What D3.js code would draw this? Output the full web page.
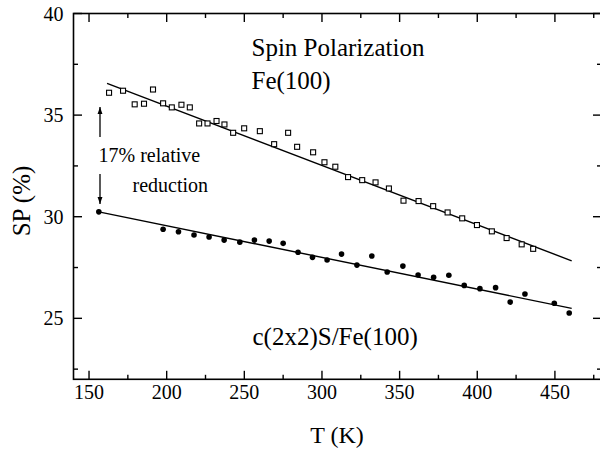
<!DOCTYPE html>
<html>
<head>
<meta charset="utf-8">
<script src="https://cdn.jsdelivr.net/npm/d3@7"></script>
<style>
  html, body { margin: 0; padding: 0; background: #fff; }
  svg { display: block; }
</style>
</head>
<body>
<svg id="chart" width="600" height="449" font-family="'Liberation Serif', 'Times New Roman', serif"></svg>
<script>
// Clean Fe(100) surface: temperature (K) and spin polarization (%)
const feT  = [162.9, 171.9, 179.4, 185.4, 191.2, 197.7, 203.3, 209.5, 214.9, 220.9,
              226.3, 232.1, 237.2, 242.8, 249.9, 260.0, 269.2, 278.2, 284.0, 294.3,
              301.6, 308.6, 316.8, 325.9, 334.5, 343.1, 352.5, 362.2, 371.6, 380.9,
              390.3, 399.8, 409.4, 418.9, 428.6, 436.0];
const feSP = [36.10, 36.20, 35.53, 35.56, 36.26, 35.58, 35.38, 35.51, 35.38, 34.59,
              34.59, 34.71, 34.54, 34.13, 34.35, 34.21, 33.57, 34.13, 33.44, 33.17,
              32.68, 32.46, 31.95, 31.80, 31.69, 31.39, 30.79, 30.77, 30.52, 30.21,
              29.92, 29.59, 29.28, 28.95, 28.64, 28.42];

// Sulfur-covered c(2x2)S/Fe(100) surface
const sT  = [156.3, 197.7, 207.6, 217.6, 227.3, 237.0, 247.1, 256.5, 266.0, 275.0,
             284.6, 293.9, 303.3, 312.6, 322.5, 332.1, 342.0, 352.1, 361.9, 371.9,
             381.7, 391.6, 401.7, 411.8, 421.2, 430.7, 449.6, 459.2];
const sSP = [30.24, 29.38, 29.26, 29.10, 29.00, 28.85, 28.75, 28.85, 28.80, 28.69,
             28.25, 28.00, 27.87, 28.16, 27.62, 28.07, 27.28, 27.57, 27.13, 27.02,
             27.12, 26.62, 26.46, 26.51, 25.80, 26.20, 25.74, 25.26];

// Linear fits, given by their end points (T, SP)
const feFitT  = [161.6, 460.8];
const feFitSP = [36.56, 27.83];
const sFitT   = [156.3, 460.8];
const sFitSP  = [30.24, 25.49];

// Axis ticks
const xMajor = [150, 200, 250, 300, 350, 400, 450];
const xMinor = [175, 225, 275, 325, 375, 425, 475];
const yMajor = [25, 30, 35, 40];
const yMinor = [22.5, 27.5, 32.5, 37.5];

const svg = d3.select("#chart");
const L = 73.5, R = 601.5, T = 13.5, B = 379.3;

const x = d3.scaleLinear().domain([140, 480]).range([L, R]);
const y = d3.scaleLinear().domain([22, 40]).range([B, T]);

const majLen = 8.5, minLen = 4.5;

// Inward ticks on all four sides
function ticks(g, vals, len, orient) {
  vals.forEach(v => {
    if (orient === "bottom") g.append("line").attr("x1", x(v)).attr("x2", x(v)).attr("y1", B).attr("y2", B - len);
    if (orient === "top")    g.append("line").attr("x1", x(v)).attr("x2", x(v)).attr("y1", T).attr("y2", T + len);
    if (orient === "left")   g.append("line").attr("y1", y(v)).attr("y2", y(v)).attr("x1", L).attr("x2", L + len);
    if (orient === "right")  g.append("line").attr("y1", y(v)).attr("y2", y(v)).attr("x1", R).attr("x2", R - len);
  });
}
const tg = svg.append("g").attr("stroke", "#000").attr("stroke-width", 1.4);
["bottom", "top"].forEach(o => { ticks(tg, xMajor, majLen, o); ticks(tg, xMinor, minLen, o); });
["left", "right"].forEach(o => { ticks(tg, yMajor, majLen, o); ticks(tg, yMinor, minLen, o); });

// Frame
svg.append("rect").attr("x", L).attr("y", T).attr("width", R - L).attr("height", B - T)
  .attr("fill", "none").attr("stroke", "#000").attr("stroke-width", 1.6);

// Tick labels
svg.append("g").selectAll("text").data(xMajor).join("text")
  .attr("x", d => x(d)).attr("y", 399).attr("text-anchor", "middle")
  .attr("font-size", 20).text(d => d);
svg.append("g").selectAll("text").data(yMajor).join("text")
  .attr("x", 63.5).attr("y", d => y(d) + 7).attr("text-anchor", "end")
  .attr("font-size", 20).text(d => d);

// Axis titles
svg.append("text").attr("x", 337).attr("y", 443).attr("text-anchor", "middle")
  .attr("font-size", 24).text("T (K)");
svg.append("text").attr("transform", "translate(30,201) rotate(-90)")
  .attr("text-anchor", "middle").attr("font-size", 25).text("SP (%)");

// Fit lines
const line = d3.line().x(d => x(d[0])).y(d => y(d[1]));
svg.append("path").attr("d", line(d3.zip(feFitT, feFitSP)))
  .attr("fill", "none").attr("stroke", "#000").attr("stroke-width", 1.4);
svg.append("path").attr("d", line(d3.zip(sFitT, sFitSP)))
  .attr("fill", "none").attr("stroke", "#000").attr("stroke-width", 1.4);

// Open squares: Fe(100)
const sq = 5;
svg.append("g").selectAll("rect").data(d3.zip(feT, feSP)).join("rect")
  .attr("x", d => x(d[0]) - sq / 2).attr("y", d => y(d[1]) - sq / 2)
  .attr("width", sq).attr("height", sq)
  .attr("fill", "#fff").attr("stroke", "#000").attr("stroke-width", 1.1);

// Filled circles: c(2x2)S/Fe(100)
svg.append("g").selectAll("circle").data(d3.zip(sT, sSP)).join("circle")
  .attr("cx", d => x(d[0])).attr("cy", d => y(d[1])).attr("r", 2.8).attr("fill", "#000");

// Arrows marking the relative reduction
const defs = svg.append("defs");
defs.append("marker").attr("id", "head").attr("viewBox", "0 0 10 10")
  .attr("refX", 10).attr("refY", 5).attr("markerWidth", 7).attr("markerHeight", 7)
  .attr("markerUnits", "userSpaceOnUse").attr("orient", "auto")
  .append("path").attr("d", "M0,1.5 L10,5 L0,8.5 Z").attr("fill", "#000");
svg.append("line").attr("x1", 100).attr("x2", 100).attr("y1", 137).attr("y2", 107)
  .attr("stroke", "#000").attr("stroke-width", 1.3).attr("marker-end", "url(#head)");
svg.append("line").attr("x1", 100).attr("x2", 100).attr("y1", 174).attr("y2", 204)
  .attr("stroke", "#000").attr("stroke-width", 1.3).attr("marker-end", "url(#head)");

// Annotations
svg.append("text").attr("x", 98.5).attr("y", 162).attr("font-size", 20).text("17% relative");
svg.append("text").attr("x", 132.5).attr("y", 192).attr("font-size", 20).text("reduction");
svg.append("text").attr("x", 251.5).attr("y", 56).attr("font-size", 25).text("Spin Polarization");
svg.append("text").attr("x", 251.5).attr("y", 88.5).attr("font-size", 25).text("Fe(100)");
svg.append("text").attr("x", 252.5).attr("y", 345).attr("font-size", 25).text("c(2x2)S/Fe(100)");
</script>
</body>
</html>
